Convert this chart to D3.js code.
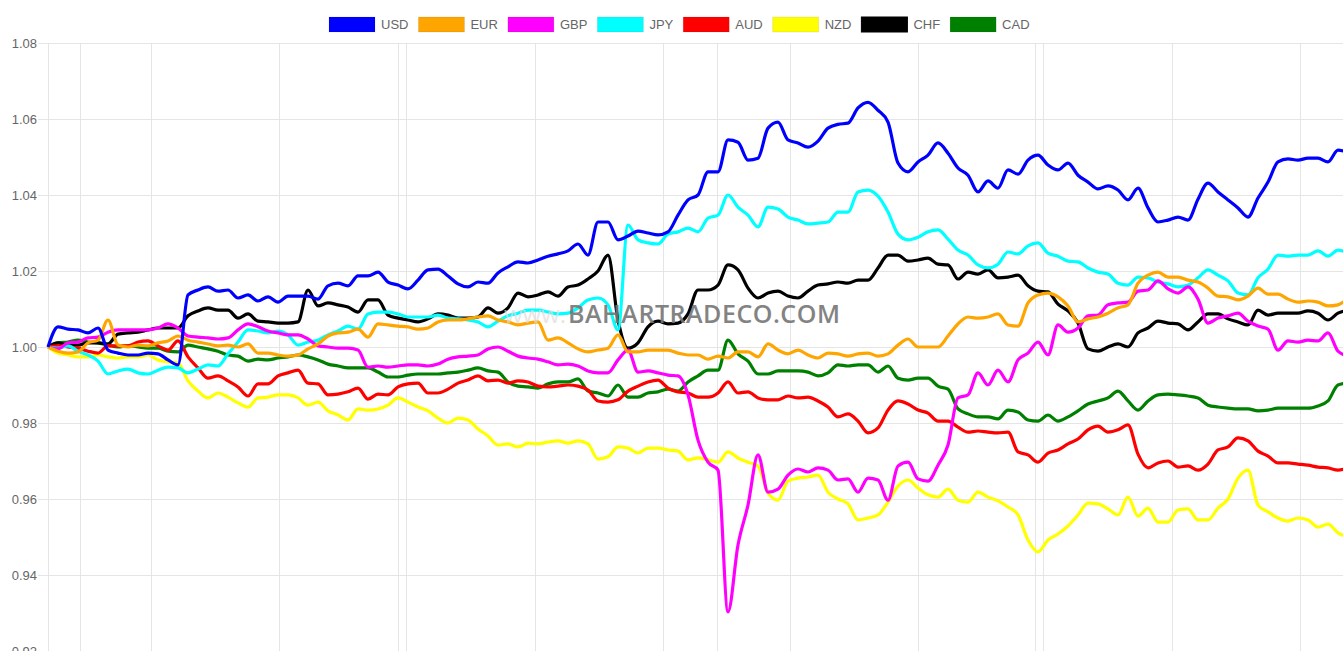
<!DOCTYPE html>
<html>
<head>
<meta charset="utf-8">
<script src="https://cdn.jsdelivr.net/npm/d3@7"></script>
<style>
  body { margin: 0; background: #fff; overflow: hidden; }
  svg { display: block; }
</style>
</head>
<body>
<div id="chart"></div>
<script>
// currency index series, one value per sample step
var usd = [1.0000,1.0053,1.0047,1.0045,1.0037,1.0050,0.9992,0.9984,0.9979,0.9979,
0.9984,0.9982,0.9966,0.9953,1.0137,1.0150,1.0158,1.0147,1.0150,1.0129,
1.0137,1.0121,1.0132,1.0118,1.0134,1.0134,1.0134,1.0126,1.0161,1.0168,
1.0161,1.0187,1.0187,1.0197,1.0171,1.0163,1.0153,1.0176,1.0203,1.0205,
1.0187,1.0166,1.0158,1.0171,1.0168,1.0195,1.0211,1.0224,1.0221,1.0229,
1.0239,1.0245,1.0253,1.0271,1.0242,1.0329,1.0329,1.0282,1.0292,1.0305,
1.0300,1.0295,1.0303,1.0347,1.0387,1.0400,1.0461,1.0461,1.0545,1.0539,
1.0492,1.0497,1.0576,1.0592,1.0545,1.0537,1.0526,1.0542,1.0576,1.0586,
1.0589,1.0629,1.0644,1.0623,1.0592,1.0484,1.0461,1.0487,1.0505,1.0537,
1.0510,1.0471,1.0452,1.0408,1.0437,1.0418,1.0466,1.0455,1.0492,1.0505,
1.0479,1.0466,1.0484,1.0452,1.0434,1.0416,1.0424,1.0413,1.0387,1.0418,
1.0366,1.0329,1.0334,1.0342,1.0334,1.0389,1.0431,1.0408,1.0387,1.0366,
1.0342,1.0392,1.0434,1.0487,1.0495,1.0492,1.0497,1.0497,1.0487,1.0518,
1.0513];

var eur = [1.0000,0.9989,0.9984,0.9987,1.0011,1.0018,1.0071,1.0005,1.0000,1.0005,
1.0003,1.0011,1.0016,1.0029,1.0018,1.0013,1.0008,1.0003,1.0005,1.0000,
1.0008,0.9984,0.9984,0.9979,0.9976,0.9979,0.9995,1.0008,1.0029,1.0037,
1.0039,1.0047,1.0026,1.0061,1.0058,1.0055,1.0053,1.0047,1.0050,1.0066,
1.0071,1.0071,1.0074,1.0079,1.0082,1.0071,1.0066,1.0058,1.0063,1.0066,
1.0018,1.0024,1.0011,0.9995,0.9987,0.9992,0.9997,1.0032,0.9987,0.9987,
0.9992,0.9992,0.9992,0.9984,0.9979,0.9979,0.9968,0.9976,0.9971,0.9987,
0.9987,0.9974,1.0008,0.9992,0.9982,0.9992,0.9979,0.9971,0.9984,0.9982,
0.9976,0.9982,0.9984,0.9976,0.9982,1.0005,1.0021,1.0000,1.0000,1.0000,
1.0029,1.0061,1.0079,1.0076,1.0079,1.0087,1.0058,1.0055,1.0116,1.0137,
1.0142,1.0132,1.0108,1.0066,1.0074,1.0079,1.0089,1.0103,1.0111,1.0168,
1.0189,1.0197,1.0184,1.0184,1.0176,1.0171,1.0155,1.0134,1.0132,1.0124,
1.0134,1.0155,1.0139,1.0139,1.0126,1.0118,1.0121,1.0118,1.0108,1.0111,
1.0129];

var gbp = [1.0000,0.9995,1.0011,1.0013,1.0024,1.0026,1.0039,1.0045,1.0045,1.0045,
1.0045,1.0050,1.0061,1.0050,1.0029,1.0026,1.0024,1.0021,1.0024,1.0045,
1.0061,1.0053,1.0042,1.0037,1.0032,1.0032,1.0021,1.0003,1.0000,0.9997,
0.9997,0.9992,0.9947,0.9950,0.9947,0.9950,0.9953,0.9953,0.9950,0.9955,
0.9968,0.9974,0.9976,0.9979,0.9995,1.0000,0.9989,0.9976,0.9971,0.9968,
0.9961,0.9953,0.9955,0.9950,0.9937,0.9932,0.9932,0.9966,0.9992,0.9934,
0.9937,0.9932,0.9926,0.9924,0.9874,0.9755,0.9697,0.9676,0.9303,0.9479,
0.9584,0.9716,0.9618,0.9626,0.9663,0.9679,0.9671,0.9682,0.9676,0.9650,
0.9653,0.9618,0.9655,0.9650,0.9597,0.9687,0.9697,0.9653,0.9647,0.9689,
0.9742,0.9866,0.9874,0.9932,0.9900,0.9939,0.9908,0.9966,0.9984,1.0013,
0.9979,1.0058,1.0039,1.0050,1.0082,1.0084,1.0111,1.0116,1.0118,1.0147,
1.0150,1.0174,1.0153,1.0142,1.0158,1.0126,1.0063,1.0076,1.0082,1.0089,
1.0068,1.0055,1.0047,0.9992,1.0016,1.0013,1.0018,1.0016,1.0037,0.9989,
0.9976];

var jpy = [1.0000,0.9997,1.0003,0.9989,0.9979,0.9963,0.9929,0.9937,0.9942,0.9932,
0.9929,0.9939,0.9947,0.9945,0.9932,0.9942,0.9953,0.9950,0.9982,1.0013,
1.0045,1.0042,1.0037,1.0042,1.0032,1.0005,1.0013,1.0018,1.0032,1.0042,
1.0055,1.0047,1.0087,1.0092,1.0092,1.0087,1.0079,1.0079,1.0079,1.0084,
1.0076,1.0074,1.0071,1.0066,1.0053,1.0068,1.0082,1.0089,1.0097,1.0097,
1.0092,1.0087,1.0089,1.0103,1.0124,1.0129,1.0111,1.0045,1.0321,1.0282,
1.0274,1.0271,1.0297,1.0303,1.0313,1.0303,1.0339,1.0347,1.0400,1.0368,
1.0347,1.0316,1.0368,1.0363,1.0342,1.0334,1.0324,1.0326,1.0329,1.0355,
1.0355,1.0408,1.0413,1.0397,1.0355,1.0297,1.0282,1.0289,1.0303,1.0308,
1.0284,1.0255,1.0242,1.0216,1.0208,1.0218,1.0250,1.0245,1.0266,1.0274,
1.0247,1.0239,1.0226,1.0224,1.0208,1.0197,1.0192,1.0168,1.0163,1.0184,
1.0182,1.0171,1.0166,1.0158,1.0163,1.0182,1.0203,1.0189,1.0174,1.0142,
1.0137,1.0182,1.0205,1.0242,1.0239,1.0242,1.0242,1.0253,1.0239,1.0255,
1.0247];

var aud = [1.0000,1.0003,1.0000,0.9997,0.9989,0.9984,1.0003,1.0003,1.0003,1.0013,
1.0016,1.0003,0.9992,1.0016,0.9974,0.9945,0.9918,0.9924,0.9911,0.9895,
0.9871,0.9903,0.9903,0.9924,0.9932,0.9939,0.9905,0.9903,0.9874,0.9876,
0.9882,0.9892,0.9863,0.9876,0.9874,0.9895,0.9903,0.9905,0.9879,0.9879,
0.9889,0.9905,0.9913,0.9924,0.9911,0.9913,0.9905,0.9911,0.9908,0.9897,
0.9895,0.9897,0.9900,0.9897,0.9887,0.9858,0.9855,0.9861,0.9884,0.9897,
0.9908,0.9913,0.9892,0.9882,0.9879,0.9868,0.9868,0.9879,0.9908,0.9879,
0.9882,0.9866,0.9861,0.9861,0.9871,0.9866,0.9868,0.9858,0.9842,0.9816,
0.9824,0.9805,0.9774,0.9787,0.9834,0.9858,0.9850,0.9834,0.9826,0.9805,
0.9805,0.9789,0.9776,0.9779,0.9776,0.9774,0.9776,0.9724,0.9716,0.9697,
0.9721,0.9729,0.9745,0.9758,0.9782,0.9792,0.9776,0.9782,0.9795,0.9718,
0.9682,0.9695,0.9700,0.9684,0.9687,0.9676,0.9692,0.9729,0.9737,0.9761,
0.9753,0.9726,0.9713,0.9695,0.9695,0.9692,0.9689,0.9684,0.9682,0.9676,
0.9682];

var nzd = [1.0000,0.9984,0.9979,0.9974,0.9974,0.9979,0.9974,0.9971,0.9974,0.9974,
0.9979,0.9966,0.9961,0.9958,0.9911,0.9884,0.9866,0.9879,0.9868,0.9853,
0.9842,0.9866,0.9868,0.9874,0.9874,0.9866,0.9847,0.9855,0.9832,0.9821,
0.9808,0.9837,0.9834,0.9837,0.9847,0.9866,0.9855,0.9842,0.9832,0.9813,
0.9800,0.9813,0.9808,0.9784,0.9766,0.9742,0.9745,0.9737,0.9747,0.9745,
0.9750,0.9753,0.9747,0.9753,0.9745,0.9705,0.9711,0.9737,0.9734,0.9721,
0.9734,0.9734,0.9729,0.9726,0.9703,0.9708,0.9703,0.9697,0.9724,0.9708,
0.9697,0.9687,0.9616,0.9597,0.9647,0.9655,0.9658,0.9663,0.9618,0.9600,
0.9587,0.9545,0.9550,0.9558,0.9592,0.9634,0.9650,0.9629,0.9611,0.9605,
0.9626,0.9597,0.9592,0.9618,0.9605,0.9595,0.9579,0.9558,0.9492,0.9461,
0.9492,0.9508,0.9529,0.9558,0.9589,0.9587,0.9574,0.9558,0.9605,0.9555,
0.9576,0.9539,0.9539,0.9571,0.9574,0.9545,0.9545,0.9576,0.9600,0.9655,
0.9676,0.9584,0.9566,0.9550,0.9542,0.9550,0.9545,0.9526,0.9534,0.9511,
0.9500];

var chf = [1.0000,1.0011,1.0005,1.0005,1.0011,1.0011,1.0008,1.0034,1.0037,1.0039,
1.0045,1.0050,1.0050,1.0050,1.0082,1.0095,1.0103,1.0097,1.0097,1.0076,
1.0087,1.0068,1.0066,1.0063,1.0063,1.0066,1.0150,1.0108,1.0116,1.0111,
1.0105,1.0092,1.0124,1.0124,1.0084,1.0076,1.0071,1.0066,1.0074,1.0087,
1.0084,1.0076,1.0076,1.0079,1.0103,1.0089,1.0103,1.0142,1.0132,1.0137,
1.0145,1.0134,1.0158,1.0163,1.0179,1.0200,1.0242,1.0071,0.9997,1.0011,
1.0053,1.0068,1.0061,1.0063,1.0087,1.0150,1.0150,1.0163,1.0216,1.0203,
1.0155,1.0129,1.0142,1.0147,1.0134,1.0129,1.0147,1.0163,1.0166,1.0171,
1.0168,1.0176,1.0176,1.0208,1.0242,1.0242,1.0226,1.0229,1.0234,1.0218,
1.0216,1.0179,1.0197,1.0192,1.0203,1.0182,1.0184,1.0189,1.0161,1.0147,
1.0145,1.0113,1.0095,1.0063,0.9995,0.9989,1.0000,1.0008,1.0000,1.0037,
1.0050,1.0068,1.0063,1.0061,1.0045,1.0066,1.0087,1.0087,1.0074,1.0066,
1.0058,1.0097,1.0084,1.0089,1.0089,1.0089,1.0095,1.0089,1.0071,1.0089,
1.0097];

var cad = [1.0000,1.0011,1.0013,1.0018,1.0013,1.0011,1.0005,1.0000,1.0003,1.0000,
0.9997,0.9997,0.9989,0.9987,1.0005,1.0000,0.9995,0.9989,0.9979,0.9976,
0.9963,0.9968,0.9966,0.9971,0.9974,0.9979,0.9974,0.9966,0.9955,0.9950,
0.9945,0.9945,0.9945,0.9934,0.9921,0.9921,0.9926,0.9929,0.9929,0.9929,
0.9932,0.9934,0.9939,0.9945,0.9937,0.9934,0.9908,0.9897,0.9895,0.9892,
0.9903,0.9908,0.9908,0.9916,0.9884,0.9879,0.9871,0.9900,0.9868,0.9868,
0.9879,0.9882,0.9889,0.9884,0.9908,0.9924,0.9939,0.9939,1.0018,0.9982,
0.9963,0.9929,0.9929,0.9937,0.9937,0.9937,0.9934,0.9924,0.9932,0.9953,
0.9950,0.9953,0.9953,0.9934,0.9950,0.9918,0.9913,0.9918,0.9918,0.9897,
0.9889,0.9837,0.9824,0.9816,0.9816,0.9811,0.9834,0.9829,0.9808,0.9805,
0.9821,0.9805,0.9816,0.9832,0.9850,0.9858,0.9866,0.9884,0.9858,0.9834,
0.9858,0.9874,0.9876,0.9874,0.9871,0.9866,0.9847,0.9842,0.9839,0.9837,
0.9837,0.9832,0.9834,0.9839,0.9839,0.9839,0.9839,0.9845,0.9858,0.9900,
0.9905];

var names = ["USD", "EUR", "GBP", "JPY", "AUD", "NZD", "CHF", "CAD"];
var colors = ["#0000ff", "#ffa500", "#ff00ff", "#00ffff", "#ff0000", "#ffff00", "#000000", "#008000"];
var yTicks = [0.92, 0.94, 0.96, 0.98, 1.00, 1.02, 1.04, 1.06, 1.08];
// vertical grid positions, in sample steps
var xTicks = [3.2, 10.3, 23.1, 35.0, 35.8, 48.7, 61.5, 66.9, 74.2, 87.0, 98.7, 99.5, 112.4, 125.2];

var series = [usd, eur, gbp, jpy, aud, nzd, chf, cad];

var width = 1343, height = 651;
var svg = d3.select("#chart").append("svg")
    .attr("width", width)
    .attr("height", height);

var x = d3.scaleLinear().domain([0, 130]).range([48, 1348]);
var y = d3.scaleLinear().domain([0.92, 1.08]).range([651, 43]);

//grid
svg.append("g").selectAll("line.h")
    .data(yTicks)
    .enter().append("line")
    .attr("x1", 38).attr("x2", width)
    .attr("y1", function(d) { return Math.round(y(d)) + 0.5 })
    .attr("y2", function(d) { return Math.round(y(d)) + 0.5 })
    .attr("stroke", "#e5e5e5");

svg.append("g").selectAll("line.v")
    .data([0].concat(xTicks))
    .enter().append("line")
    .attr("x1", function(d) { return Math.round(x(d)) + 0.5 })
    .attr("x2", function(d) { return Math.round(x(d)) + 0.5 })
    .attr("y1", 43).attr("y2", height)
    .attr("stroke", "#e5e5e5");

svg.append("g").selectAll("text")
    .data(yTicks)
    .enter().append("text")
    .attr("x", 37)
    .attr("y", function(d) { return y(d) })
    .attr("dy", "0.35em")
    .attr("text-anchor", "end")
    .style("font", "13px 'Liberation Sans', Arial, sans-serif")
    .style("fill", "#666")
    .text(function(d) { return d.toFixed(2) });

//lines, last dataset drawn first
var line = d3.line()
    .x(function(d, i) { return x(i) })
    .y(function(d) { return y(d) })
    .curve(d3.curveMonotoneX);

var lines = svg.append("g");
for (var k = series.length - 1; k >= 0; k--) {
    lines.append("path")
        .datum(series[k])
        .attr("d", line)
        .attr("fill", "none")
        .attr("stroke", colors[k])
        .attr("stroke-width", 3.2)
        .attr("stroke-linejoin", "round");
}

//watermark
svg.append("text")
    .attr("x", 566).attr("y", 323)
    .attr("text-anchor", "end")
    .style("font", "24px 'Open Sans', sans-serif")
    .style("fill", "#dcdcdc")
    .style("opacity", 0.7)
    .text("www.");
svg.append("text")
    .attr("x", 568).attr("y", 323)
    .attr("textLength", 272)
    .style("font", "600 25px 'Open Sans', sans-serif")
    .style("fill", "#767676")
    .style("opacity", 0.9)
    .text("BAHARTRADECO.COM");

//legend
var legend = svg.append("g");
var lx = 329;
names.forEach(function(n, i) {
    legend.append("rect")
        .attr("x", lx).attr("y", 17)
        .attr("width", 46).attr("height", 15)
        .attr("fill", colors[i])
        .attr("stroke", colors[i] == "#000000" ? "#000" : "rgba(0,0,0,0.08)")
        .attr("stroke-width", 1);
    var t = legend.append("text")
        .attr("x", lx + 52).attr("y", 24.5)
        .attr("dy", "0.35em")
        .style("font", "13px 'Liberation Sans', Arial, sans-serif")
        .style("fill", "#666")
        .text(n);
    lx += 52 + t.node().getComputedTextLength() + 10;
});
</script>
</body>
</html>
